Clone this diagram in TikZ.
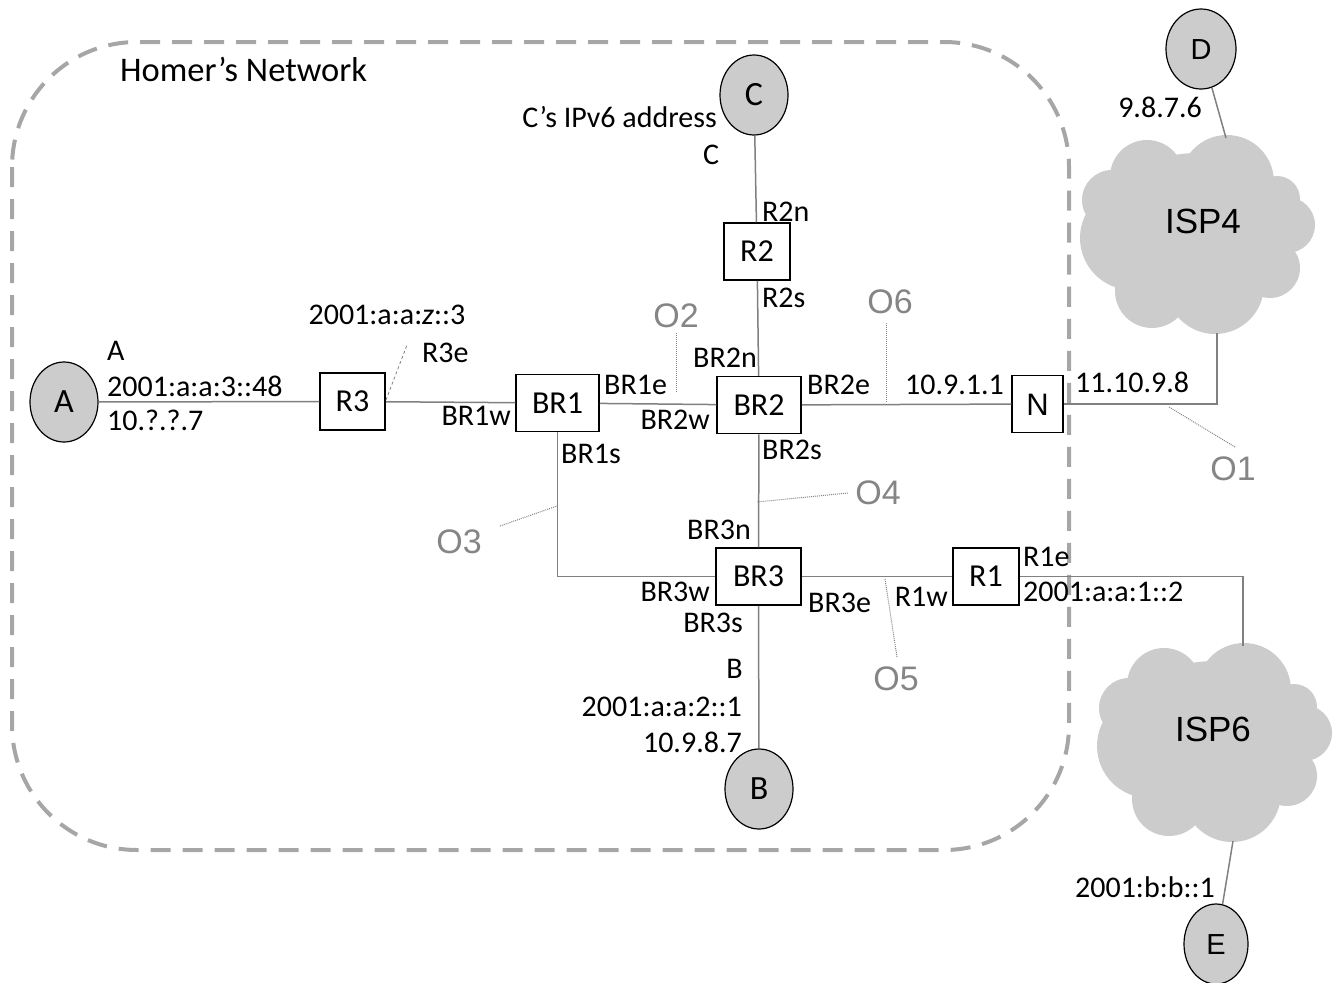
\documentclass[tikz,border=0pt]{standalone}
\usepackage{fontspec}
\setmainfont{Carlito}
\newfontfamily\arialf{Liberation Sans}
\usetikzlibrary{shapes.geometric}
\definecolor{hostgray}{HTML}{CCCCCC}
\definecolor{linkgray}{HTML}{808080}
\definecolor{bordergray}{HTML}{A6A6A6}
\definecolor{obsgray}{HTML}{858585}
\newcommand\myispcloud{%
  \fill[puff] (1197,233) ellipse[x radius=100pt, y radius=80pt];
  \fill[puff] (1147,177) circle[radius=37pt];
  \fill[puff] (1227,182) circle[radius=47pt];
  \fill[puff] (1277,199) circle[radius=23pt];
  \fill[puff] (1287,225) circle[radius=28pt];
  \fill[puff] (1270,268) circle[radius=30pt];
  \fill[puff] (1215,285) circle[radius=49pt];
  \fill[puff] (1152,291) circle[radius=37pt];
  \fill[puff] (1132,238) circle[radius=52pt];
  \fill[puff] (1112,200) circle[radius=30pt];
}
\begin{document}
\begin{tikzpicture}[x=1pt,y=-1pt,
  lbl/.style={inner sep=0pt, font=\fontsize{30}{36}\selectfont, text height=19.5pt, text depth=0pt},
  lw/.style={lbl, anchor=west},
  le/.style={lbl, anchor=east},
  router/.style={draw, line width=1.5pt, fill=white, inner sep=0pt, minimum height=57pt, font=\fontsize{32}{38}\selectfont, text height=20.6pt, text depth=0pt},
  host/.style={ellipse, draw, line width=1.2pt, fill=hostgray, inner sep=0pt, minimum width=68pt, minimum height=80pt, font=\fontsize{34}{40}\selectfont, text height=21.9pt, text depth=0pt},
  ahost/.style={host, font=\arialf\fontsize{29}{34}\selectfont, text height=20.8pt},
  obs/.style={inner sep=0pt, text=obsgray, font=\arialf\fontsize{34}{40}\selectfont, text height=24.3pt, text depth=0pt},
  isp/.style={inner sep=0pt, font=\arialf\fontsize{35}{42}\selectfont, text height=25pt, text depth=0pt},
  link/.style={draw=linkgray, line width=1.5pt},
  obsline/.style={draw=obsgray, line width=1pt, densely dotted},
  puff/.style={fill=hostgray},
  homer/.style={draw=bordergray, line width=4pt, dash pattern=on 20pt off 12pt, rounded corners=125pt},
]
\useasboundingbox (0,0) rectangle (1334,983);

% Homer's network boundary
\draw[homer] (12,42) rectangle (1069,850);
\node[lw, font=\fontsize{34.5}{41}\selectfont, text height=22.2pt] (homerlbl) at (120,70) {Homer’s Network};

% clouds
\myispcloud
\begin{scope}[shift={(17,508)}]
  \myispcloud
\end{scope}
\node[isp] (ISP4) at (1203,221) {ISP4};
\node[isp] (ISP6) at (1213,729) {ISP6};

% hosts
\node[host] (A) at (64,402) {A};
\node[host] (C) at (754,95) {C};
\node[ahost, minimum width=70pt] (D) at (1201,49) {D};
\node[host] (B) at (759,789) {B};
\node[ahost, minimum width=64pt] (E) at (1216,944) {E};

% routers
\node[router, minimum width=65pt] (R3) at (352.5,401.5) {R3};
\node[router, minimum width=83pt] (BR1) at (557.5,403) {BR1};
\node[router, minimum width=84pt] (BR2) at (759,405) {BR2};
\node[router, minimum width=66pt] (R2) at (757,251.5) {R2};
\node[router, minimum width=51pt, font=\arialf\fontsize{31}{37}\selectfont, text height=22.2pt] (N) at (1037.5,404) {N};
\node[router, minimum width=85pt] (BR3) at (758.5,576.5) {BR3};
\node[router, minimum width=66pt] (R1) at (986,576.5) {R1};

% free ends
\coordinate (n4) at (1217,333);
\coordinate (n6) at (1243,646);
\coordinate (d4) at (1226,138);
\coordinate (e6) at (1233,841);

% links
\draw[link] (A) -- (R3);
\draw[link] (R3) -- (BR1);
\draw[link] (BR1) -- (BR2);
\draw[link] (BR2) -- (R2);
\draw[link] (R2) -- (C);
\draw[link] (BR2) -- (N);
\draw[link] (N) -| (n4);
\draw[link] (BR1) |- (BR3);
\draw[link] (BR2) -- (BR3);
\draw[link] (BR3) -- (R1);
\draw[link] (R1) -| (n6);
\draw[link] (BR3) -- (B);
\draw[link] (D) -- (d4);
\draw[link] (e6) -- (E);

% observation points
\node[obs] (O1) at (1233,468) {O1};
\node[obs] (O2) at (676,315) {O2};
\node[obs] (O3) at (459,541) {O3};
\node[obs] (O4) at (878,492) {O4};
\node[obs] (O5) at (896,678) {O5};
\node[obs] (O6) at (890,301) {O6};
\coordinate (o1a) at (1235,447); \coordinate (o1b) at (1169,407);
\coordinate (o2a) at (676,333);  \coordinate (o2b) at (676,393);
\coordinate (o3a) at (500,526);  \coordinate (o3b) at (557,506);
\coordinate (o4a) at (848,493);  \coordinate (o4b) at (757,502);
\coordinate (o5a) at (897,657);  \coordinate (o5b) at (885,579);
\coordinate (o6a) at (886,323);  \coordinate (o6b) at (886,403);
\draw[obsline] (o1a) -- (o1b);
\draw[obsline] (o2a) -- (o2b);
\draw[obsline] (o3a) -- (o3b);
\draw[obsline] (o4a) -- (o4b);
\draw[obsline] (o5a) -- (o5b);
\draw[obsline] (o6a) -- (o6b);

% R3e annotation
\coordinate (r3ea) at (386,400);
\coordinate (r3eb) at (407,345);
\draw[draw=linkgray, line width=0.8pt, dash pattern=on 3pt off 2.5pt] (r3ea) -- (r3eb);

% labels
\node[lw] (lA) at (107,351) {A};
\node[lw] (lA6) at (107,387) {2001:a:a:3::48};
\node[lw] (lA4) at (107,421) {10.?.?.7};
\node[lbl] (lR3a) at (387,315) {2001:a:a:\textit{z}::3};
\node[lw] (lR3e) at (422,353) {R3e};
\node[le] (lBR1w) at (511,416) {BR1w};
\node[lw] (lBR1e) at (604,385) {BR1e};
\node[lw] (lBR1s) at (561,454) {BR1s};
\node[le] (lBR2w) at (710,420) {BR2w};
\node[le] (lBR2n) at (757,358) {BR2n};
\node[lw] (lBR2e) at (807,385) {BR2e};
\node[lw] (lBR2s) at (762,450) {BR2s};
\node[lw] (lR2s) at (762,298) {R2s};
\node[lw] (lR2n) at (762,212) {R2n};
\node[le] (lC6) at (717,118) {C’s IPv6 address};
\node[lbl] (lC) at (711,155) {C};
\node[lw] (lN1) at (905,385) {10.9.1.1};
\node[lw] (lN2) at (1075,383) {11.10.9.8};
\node[le] (lD) at (1202,108) {9.8.7.6};
\node[le] (lBR3n) at (751,530) {BR3n};
\node[le] (lBR3w) at (710,592) {BR3w};
\node[le] (lBR3s) at (743,623) {BR3s};
\node[lw] (lBR3e) at (808,603) {BR3e};
\node[le] (lB) at (743,669) {B};
\node[le] (lB6) at (742,707) {2001:a:a:2::1};
\node[le] (lB4) at (742,743) {10.9.8.7};
\node[le] (lR1w) at (948,597) {R1w};
\node[lw] (lR1e) at (1023,557) {R1e};
\node[lw] (lR16) at (1023,592) {2001:a:a:1::2};
\node[le] (lE) at (1215,888) {2001:b:b::1};
\end{tikzpicture}
\end{document}
